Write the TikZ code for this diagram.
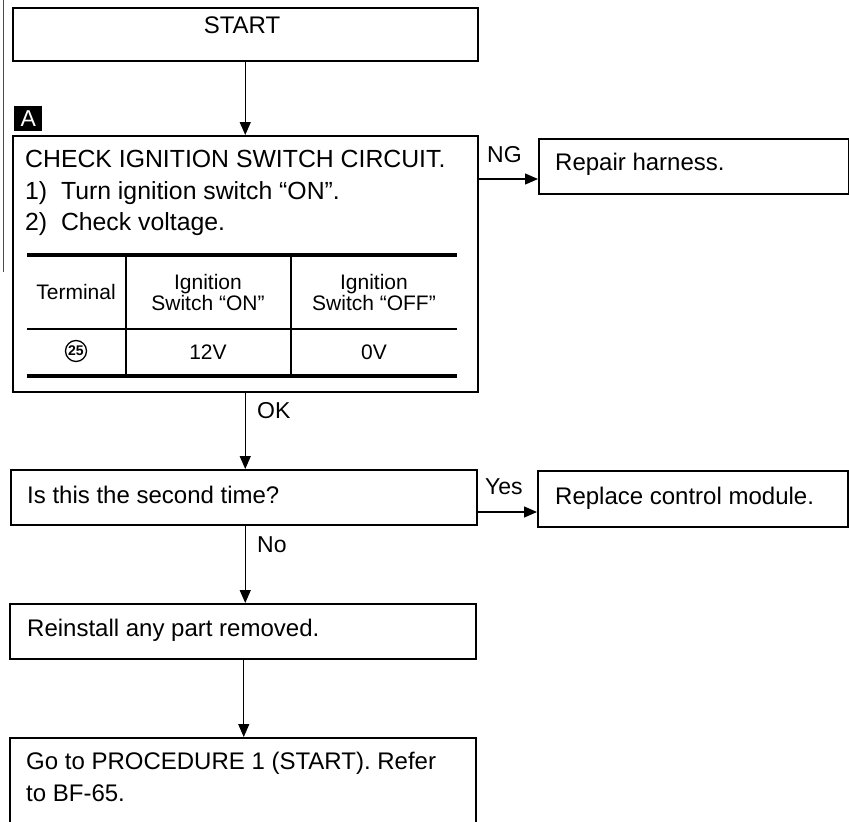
\documentclass[tikz,border=0pt]{standalone}
\usepackage{fontspec}
\setmainfont{Liberation Sans}
\usetikzlibrary{arrows.meta}
\begin{document}
\begin{tikzpicture}[x=1pt,y=-1pt,
  box/.style={draw, line width=1.5pt, anchor=north west, inner sep=0pt},
  txt/.style={inner sep=0pt, font=\fontsize{24}{31}\selectfont},
  ctxt/.style={inner sep=0pt, font=\fontsize{24.8}{31}\selectfont},
  lbl/.style={inner sep=0pt, font=\fontsize{23}{28}\selectfont},
  tab/.style={inner sep=0pt, font=\fontsize{21}{24}\selectfont},
  arr/.style={line width=1.3pt, -{Triangle[length=13pt,width=11pt]}},
  thickrule/.style={line width=3.8pt},
  thinrule/.style={line width=1.3pt}]
\useasboundingbox (0,0) rectangle (849,822);
\clip (0,0) rectangle (849,822);
% scan edge line
\draw[line width=1pt, black!70] (3,0) -- (3,272);
% boxes
\node[box, minimum width=465pt, minimum height=53pt] (start) at (12,7) {};
\node[box, minimum width=465pt, minimum height=256pt] (chk) at (12,135) {};
\node[box, minimum width=310pt, minimum height=55pt] (repair) at (538,138) {};
\node[box, minimum width=466pt, minimum height=55pt] (second) at (10,469) {};
\node[box, minimum width=310pt, minimum height=56pt] (replace) at (537,470) {};
\node[box, minimum width=466pt, minimum height=55pt] (reinstall) at (9,603) {};
\node[box, minimum width=466pt, minimum height=100pt] (goto) at (9,737) {};
% label A
\node[fill=black, text=white, inner sep=0pt, minimum width=28pt, minimum height=25pt,
  anchor=north west, font=\fontsize{23}{23}\selectfont] (labA) at (14,106) {A};
% texts
\node[txt, anchor=base] (tStart) at (242,33) {START};
\node[ctxt, anchor=base west] (tChk1) at (25,167) {CHECK IGNITION SWITCH CIRCUIT.};
\node[ctxt, anchor=base west] (tChk2) at (25,199) {1)\ \ Turn ignition switch “ON”.};
\node[ctxt, anchor=base west] (tChk3) at (25,230) {2)\ \ Check voltage.};
\node[txt, anchor=base west] (tRepair) at (555,170) {Repair harness.};
\node[txt, anchor=base west] (tSecond) at (27,503) {Is this the second time?};
\node[txt, anchor=base west] (tReplace) at (555,504) {Replace control module.};
\node[txt, anchor=base west] (tReinstall) at (27,636) {Reinstall any part removed.};
\node[txt, anchor=base west] (tGo1) at (26,769) {Go to PROCEDURE 1 (START). Refer};
\node[txt, anchor=base west] (tGo2) at (26,801) {to BF-65.};
% table
\draw[thickrule] (27,255) -- (457,255);
\draw[thickrule] (27,376) -- (457,376);
\draw[thinrule] (27,329) -- (457,329);
\draw[thinrule] (126,255) -- (126,376);
\draw[thinrule] (291,255) -- (291,376);
\node[tab, anchor=base] (hTerm) at (76,299) {Terminal};
\node[tab, anchor=base] (hOn1) at (208,289) {Ignition};
\node[tab, anchor=base] (hOn2) at (208,310) {Switch “ON”};
\node[tab, anchor=base] (hOff1) at (374,289) {Ignition};
\node[tab, anchor=base] (hOff2) at (374,310) {Switch “OFF”};
\node[draw, circle, line width=1.3pt, minimum size=21pt, inner sep=0pt,
  font=\fontsize{14}{14}\selectfont\bfseries] (c25) at (76,351) {25};
\node[tab, anchor=base] (v12) at (208,359) {12V};
\node[tab, anchor=base] (v0) at (374,359) {0V};
% connectors
\draw[arr] (start.south) -- (start.south |- chk.north);
\coordinate (ng0) at ([yshift=-44pt]chk.north east);
\draw[arr] (ng0) -- (ng0 -| repair.west);
\node[lbl, anchor=base west] (lNG) at (487,162) {NG};
\draw[arr] (chk.south) -- (chk.south |- second.north);
\node[lbl, anchor=base west] (lOK) at (257,418) {OK};
\coordinate (ys0) at ([yshift=-43pt]second.north east);
\draw[arr] (ys0) -- (ys0 -| replace.west);
\node[lbl, anchor=base west] (lYes) at (485,494) {Yes};
\coordinate (no0) at (second.south -| chk.south);
\draw[arr] (no0) -- (no0 |- reinstall.north);
\node[lbl, anchor=base west] (lNo) at (257,552) {No};
\coordinate (rg0) at ([xshift=1pt]reinstall.south);
\draw[arr] (rg0) -- (rg0 |- goto.north);
\end{tikzpicture}
\end{document}
